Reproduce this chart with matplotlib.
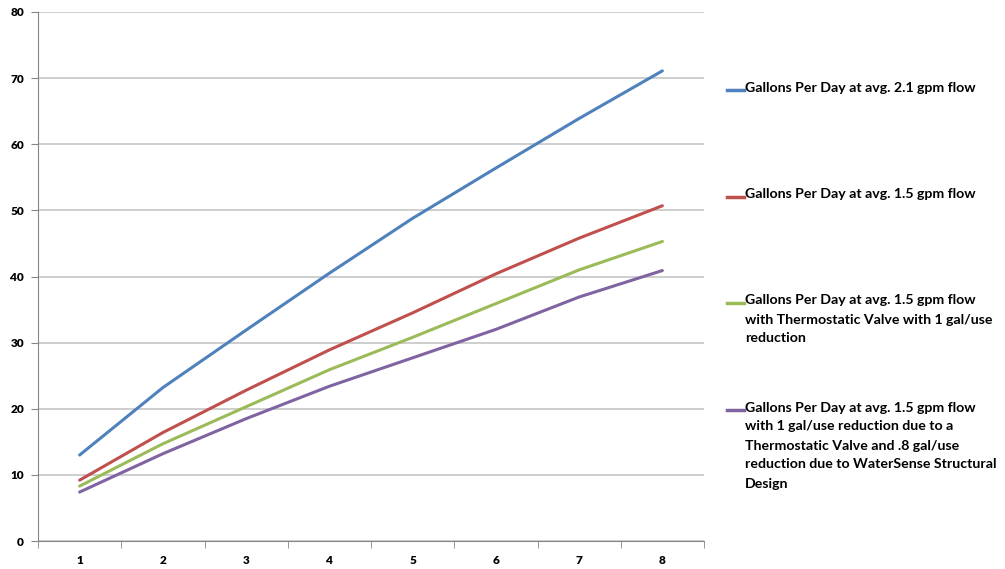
import matplotlib
matplotlib.use('Agg')

import matplotlib.pyplot as plt
from matplotlib.lines import Line2D

plt.rcParams['font.family'] = ['Lato', 'DejaVu Sans']

users = [1, 2, 3, 4, 5, 6, 7, 8]
gpd_21 = [13.0, 23.2, 31.9, 40.5, 48.8, 56.4, 63.9, 71.1]
gpd_15 = [9.2, 16.4, 22.8, 28.9, 34.5, 40.4, 45.8, 50.7]
gpd_15_valve = [8.3, 14.7, 20.3, 25.9, 30.8, 35.9, 41.0, 45.3]
gpd_15_valve_ws = [7.4, 13.2, 18.5, 23.4, 27.7, 32.0, 36.9, 40.9]

labels = [
    'Gallons Per Day at avg. 2.1 gpm flow',
    'Gallons Per Day at avg. 1.5 gpm flow',
    'Gallons Per Day at avg. 1.5 gpm flow\nwith Thermostatic Valve with 1 gal/use\nreduction',
    'Gallons Per Day at avg. 1.5 gpm flow\nwith 1 gal/use reduction due to a\nThermostatic Valve and .8 gal/use\nreduction due to WaterSense Structural\nDesign',
]
colors = ['#4F81BD', '#C0504D', '#9BBB59', '#8064A2']
series = [gpd_21, gpd_15, gpd_15_valve, gpd_15_valve_ws]

W, H = 1005, 569
fig = plt.figure(figsize=(W / 100, H / 100), dpi=100)
ax = fig.add_axes([38 / W, 1 - 541 / H, (704 - 38) / W, (541 - 12) / H])

for vals, c in zip(series, colors):
    ax.plot(users, vals, color=c, lw=2.2, solid_capstyle='round')

ax.set_xlim(0.5, 8.5)
ax.set_ylim(0, 80)
ax.set_yticks(range(0, 81, 10))
ax.set_xticks(users)
ax.set_xticks([x + 0.5 for x in range(0, 9)], minor=True)
ax.tick_params(axis='x', which='major', length=0, pad=10)
ax.tick_params(axis='x', which='minor', length=5, color='#868686', direction='out')
ax.tick_params(axis='y', length=5, color='#868686', direction='out', pad=5)
for lab in ax.get_xticklabels() + ax.get_yticklabels():
    lab.set_fontsize(8.5)
    lab.set_fontweight('heavy')
ax.grid(axis='y', color='#c6c6c6', lw=1.2)
ax.set_axisbelow(True)
for s in ['top', 'right']:
    ax.spines[s].set_visible(False)
ax.spines['left'].set_color('#868686')
ax.spines['bottom'].set_color('#868686')

# legend drawn by hand, Excel style spacing
tops = [90, 197, 303, 410]
for lab, c, y in zip(labels, colors, tops):
    fig.add_artist(Line2D([727 / W, 744 / W], [1 - y / H, 1 - y / H], color=c, lw=2.5,
                          transform=fig.transFigure))
    fig.text(745 / W, 1 - (y - 8.5) / H, lab, fontsize=10.2, fontweight='bold',
             va='top', ha='left', linespacing=1.7)

fig.savefig('out.png', dpi=100)
